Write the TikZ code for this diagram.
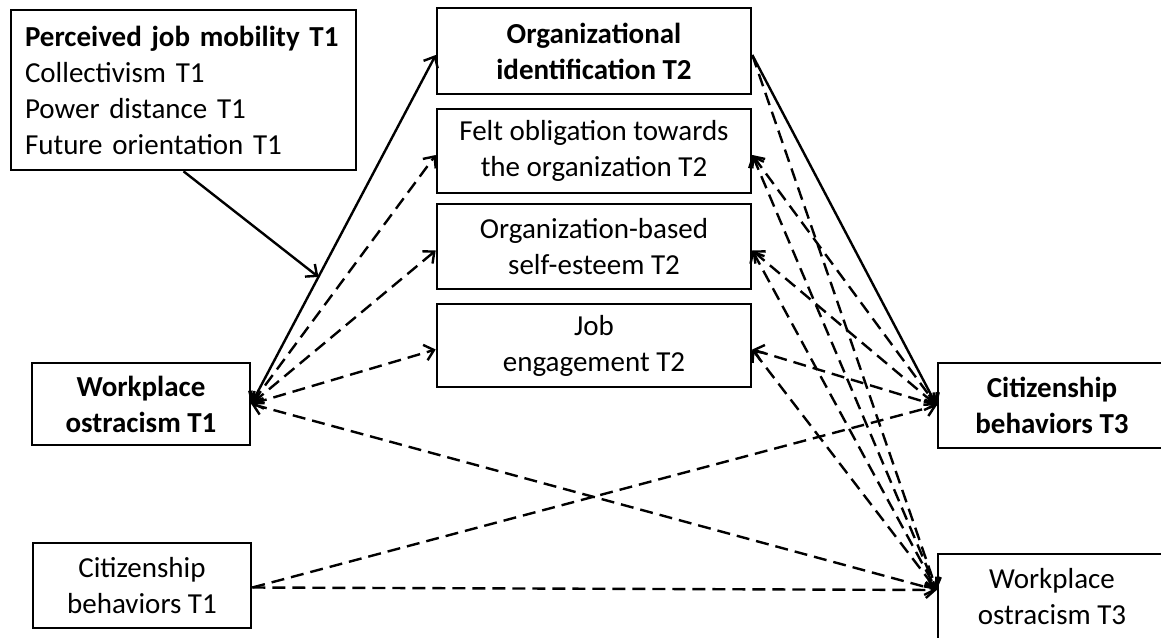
\documentclass[tikz,border=0pt]{standalone}
\usepackage{fontspec}
\setmainfont{Carlito}
\usetikzlibrary{arrows.meta,calc}
\begin{document}
\begin{tikzpicture}[x=1pt,y=-1pt,
  >={Straight Barb[length=9pt,width=16pt]},
  box/.style={draw,line width=2.6pt,fill=white,inner sep=0pt,align=center,
    font=\fontsize{29}{36}\selectfont},
  link/.style={line width=2.4pt},
  dlink/.style={line width=2.4pt,dash pattern=on 13pt off 7pt}]
\useasboundingbox (0,0) rectangle (1161,637);
\clip (0,0) rectangle (1161,637);
\fill[white] (0,0) rectangle (1161,637);

% boxes
\node[box,align=left,text width=317pt,inner xsep=14pt,minimum height=160pt] (pjm) at (183.5,90)
  {\textbf{Perceived job mobility T1}\\Collectivism T1\\Power distance T1\\Future orientation T1};
\node[box,minimum width=314pt,minimum height=86pt] (oi) at (594,51)
  {\textbf{Organizational}\\\textbf{identification T2}};
\node[box,minimum width=314pt,minimum height=84pt] (fo) at (594,151)
  {Felt obligation towards\\the organization T2};
\node[box,minimum width=314pt,minimum height=85pt] (se) at (594,246.5)
  {Organization-based\\self-esteem T2};
\node[box,minimum width=314pt,minimum height=83pt] (je) at (594,345.5)
  {Job\\engagement T2};
\node[box,minimum width=218pt,minimum height=82pt] (wo1) at (141,404)
  {\textbf{Workplace}\\\textbf{ostracism T1}};
\node[box,minimum width=218pt,minimum height=85pt] (cb1) at (142,585.5)
  {Citizenship\\behaviors T1};
\node[box,minimum width=228pt,minimum height=85pt] (cb3) at (1052,405.5)
  {\textbf{Citizenship}\\\textbf{behaviors T3}};
\node[box,minimum width=228pt,minimum height=86pt] (wo3) at (1052,597)
  {Workplace\\ostracism T3};

% anchor points
\coordinate (oiW) at ([yshift=-4pt]oi.west);
\coordinate (oiE) at ([yshift=-4pt]oi.east);
\coordinate (foW) at ([yshift=-4pt]fo.west);
\coordinate (foE) at ([yshift=-4pt]fo.east);
\coordinate (seW) at ([yshift=-4pt]se.west);
\coordinate (seE) at ([yshift=-4pt]se.east);
\coordinate (jeW) at ([yshift=-4pt]je.west);
\coordinate (jeE) at ([yshift=-4pt]je.east);
\coordinate (woT) at ([yshift=7pt]wo3.west);
\coordinate (cbO) at ([yshift=-2pt]cb1.east);

% solid paths
\draw[link,<->] (wo1.east) -- coordinate[pos=0.364] (mod) (oiW);
\draw[link,->] (pjm.south) -- (mod);
\draw[link,->] (oiE) -- (cb3.west);

% dashed paths
\draw[dlink,<->] (wo1.east) -- (foW);
\draw[dlink,<->] (wo1.east) -- (seW);
\draw[dlink,<->] (wo1.east) -- (jeW);
\draw[dlink,<->] (wo1.east) -- (woT);
\draw[dlink,->] (oiE) -- (woT);
\draw[dlink,<->] (foE) -- (cb3.west);
\draw[dlink,<->] (foE) -- (woT);
\draw[dlink,<->] (seE) -- (cb3.west);
\draw[dlink,<->] (seE) -- (woT);
\draw[dlink,<->] (jeE) -- (cb3.west);
\draw[dlink,<->] (jeE) -- (woT);
\draw[dlink,->] (cbO) -- (cb3.west);
\draw[dlink,->] (cbO) -- (woT);
\end{tikzpicture}
\end{document}
